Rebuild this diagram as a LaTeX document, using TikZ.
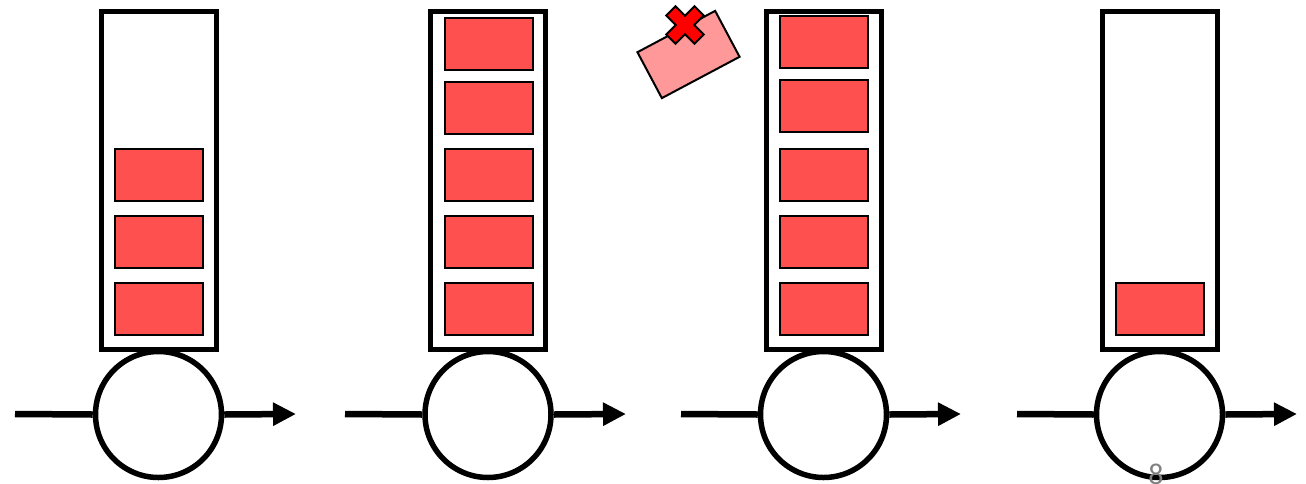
\documentclass[tikz,border=0pt]{standalone}
\usepackage{fontspec}
\newfontfamily\numfont{Carlito}
\usetikzlibrary{arrows.meta}
\definecolor{pktred}{HTML}{FF5050}
\definecolor{droppink}{HTML}{FF9999}
\definecolor{xred}{HTML}{FF0000}
\tikzset{
  queuebox/.style={draw=black, line width=5pt, fill=white, rectangle, inner sep=0pt, minimum width=115pt, minimum height=338pt},
  packet/.style={draw=black, line width=2pt, fill=pktred, rectangle, inner sep=0pt, minimum width=88pt, minimum height=52pt},
  droppacket/.style={packet, fill=droppink},
  server/.style={draw=black, line width=5.5pt, fill=white, circle, inner sep=0pt, minimum size=126pt},
  flow/.style={line width=6.5pt, draw=black},
  flowout/.style={flow, -{Triangle[length=23pt,width=22pt]}},
  pagenum/.style={text=gray, font=\numfont\fontsize{30}{30}\selectfont, inner sep=0pt, anchor=north}
}
\begin{document}
\begin{tikzpicture}[x=1pt,y=-1pt]
\useasboundingbox (0,0) rectangle (1306,483);
% queue 1
\node[queuebox] (q1) at (158.5,180.5) {};
\node[packet] (q1p3) at (159,175) {};
\node[packet] (q1p4) at (159,242) {};
\node[packet] (q1p5) at (159,309) {};
\node[server] (s1) at (158.5,414.5) {};
\coordinate (i1) at (15,414);
\coordinate (o1) at (296,414);
\draw[flow] (i1) -- (s1.west);
\draw[flowout] (s1.east) -- (o1);
% queue 2
\node[queuebox] (q2) at (488,180.5) {};
\node[packet] (q2p1) at (489,44) {};
\node[packet] (q2p2) at (489,108) {};
\node[packet] (q2p3) at (489,175) {};
\node[packet] (q2p4) at (489,242) {};
\node[packet] (q2p5) at (489,309) {};
\node[server] (s2) at (488,414.5) {};
\coordinate (i2) at (345,414);
\coordinate (o2) at (626,414);
\draw[flow] (i2) -- (s2.west);
\draw[flowout] (s2.east) -- (o2);
% queue 3
\node[queuebox] (q3) at (823.5,180.5) {};
\node[packet] (q3p1) at (824,42) {};
\node[packet] (q3p2) at (824,106) {};
\node[packet] (q3p3) at (824,175) {};
\node[packet] (q3p4) at (824,242) {};
\node[packet] (q3p5) at (824,309) {};
\node[server] (s3) at (823.5,414.5) {};
\coordinate (i3) at (681,414);
\coordinate (o3) at (961,414);
\draw[flow] (i3) -- (s3.west);
\draw[flowout] (s3.east) -- (o3);
% queue 4
\node[queuebox] (q4) at (1159.5,180.5) {};
\node[packet] (q4p5) at (1160,309) {};
\node[server] (s4) at (1159.5,414.5) {};
\coordinate (i4) at (1017,414);
\coordinate (o4) at (1297,414);
\draw[flow] (i4) -- (s4.west);
\draw[flowout] (s4.east) -- (o4);
% dropped packet
\node[droppacket, rotate=28] (drop) at (688.5,54.5) {};
\begin{scope}[shift={(685,25)}, rotate=45]
\filldraw[fill=xred, draw=black, line width=2pt, line join=miter]
  (6.5,-20) -- (6.5,-6.5) -- (20,-6.5) -- (20,6.5) -- (6.5,6.5) -- (6.5,20)
  -- (-6.5,20) -- (-6.5,6.5) -- (-20,6.5) -- (-20,-6.5) -- (-6.5,-6.5) -- (-6.5,-20) -- cycle;
\end{scope}
% page number
\node[pagenum] (pg) at (1156,464) {8};
\end{tikzpicture}
\end{document}
